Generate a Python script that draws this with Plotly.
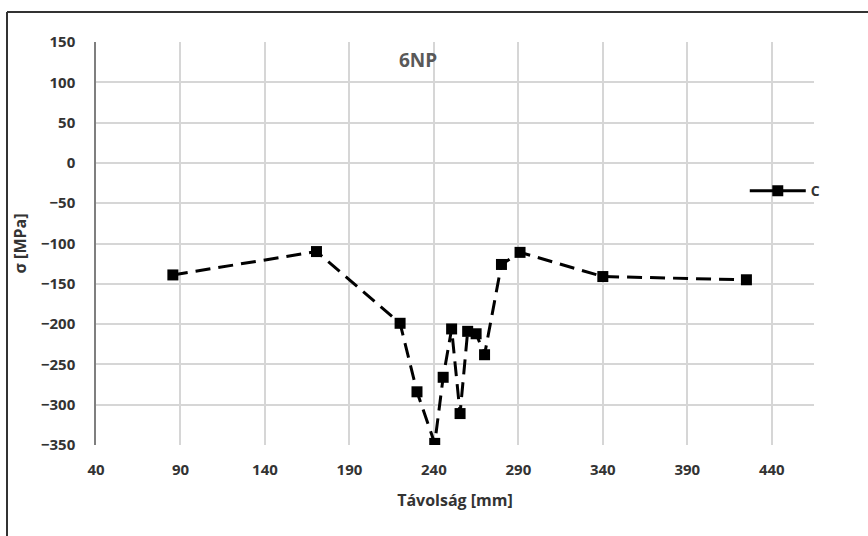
import plotly.graph_objects as go

distance_mm = [85.5, 170.5, 220, 230, 240.5, 245.5, 250.5, 255.5, 260, 265, 270, 280, 291, 340, 425]
stress_mpa = [-139, -110, -199, -284, -348, -266, -206, -311, -209, -212, -238, -126, -111, -141, -145]
x_ticks = [40, 90, 140, 190, 240, 290, 340, 390, 440]
y_ticks = [150, 100, 50, 0, -50, -100, -150, -200, -250, -300, -350]
series_name = "C"

FONT = "Open Sans"
TXT = "#333333"

fig = go.Figure()
fig.add_trace(go.Scatter(
    x=distance_mm, y=stress_mpa, mode="lines+markers", name=series_name,
    showlegend=False, legendgroup="c",
    line=dict(color="black", width=3, dash="15px,8px"),
    marker=dict(symbol="square", size=11, color="black"),
))
# legend entry drawn with a solid line, as in the reference
fig.add_trace(go.Scatter(
    x=[None], y=[None], mode="lines+markers", name=series_name, legendgroup="c",
    line=dict(color="black", width=3),
    marker=dict(symbol="square", size=11, color="black"),
))

fig.update_layout(
    width=868, height=536,
    margin=dict(l=96, r=54, t=42, b=91),
    paper_bgcolor="white", plot_bgcolor="white",
    font=dict(family=FONT, color=TXT),
    showlegend=True,
    legend=dict(x=1.015, y=0.63, xanchor="right", yanchor="middle", itemwidth=56,
                bgcolor="rgba(0,0,0,0)",
                font=dict(size=14, color=TXT, family=FONT, weight="bold")),
    xaxis=dict(range=[40, 465], tickvals=x_ticks, showgrid=True, gridcolor="#d6d6d6",
               gridwidth=1.5, zeroline=False, showline=False, ticks="",
               ticklabelstandoff=14,
               tickfont=dict(size=15, color=TXT, family=FONT, weight="bold"),
               title=dict(text="<b>Távolság [mm]</b>", font=dict(size=16, color=TXT), standoff=16)),
    yaxis=dict(range=[-350, 150], tickvals=y_ticks, showgrid=True, gridcolor="#d6d6d6",
               gridwidth=1.5, zeroline=False, showline=True, linecolor="#7f7f7f", linewidth=1.5,
               ticks="", ticklabelstandoff=16,
               tickfont=dict(size=15, color=TXT, family=FONT, weight="bold"),
               title=dict(text="<b>σ [MPa]</b>", font=dict(size=16, color=TXT), standoff=10)),
    annotations=[dict(text="<b>6NP</b>", x=(418 - 96) / 718, y=1 - (60 - 42) / 403,
                      xref="paper", yref="paper", showarrow=False,
                      xanchor="center", yanchor="middle",
                      font=dict(size=19, color="#595959", family=FONT))],
    shapes=[
        dict(type="line", xref="paper", yref="paper", x0=-96/718 + 7/718, x1=1 + 54/718,
             y0=1 + (42 - 12) / 403, y1=1 + (42 - 12) / 403, line=dict(color="#333", width=2)),
        dict(type="line", xref="paper", yref="paper", x0=(7 - 96) / 718, x1=(7 - 96) / 718,
             y0=1 + (42 - 12) / 403, y1=-91 / 403, line=dict(color="#333", width=2)),
    ],
)

fig.write_html("out.html")
